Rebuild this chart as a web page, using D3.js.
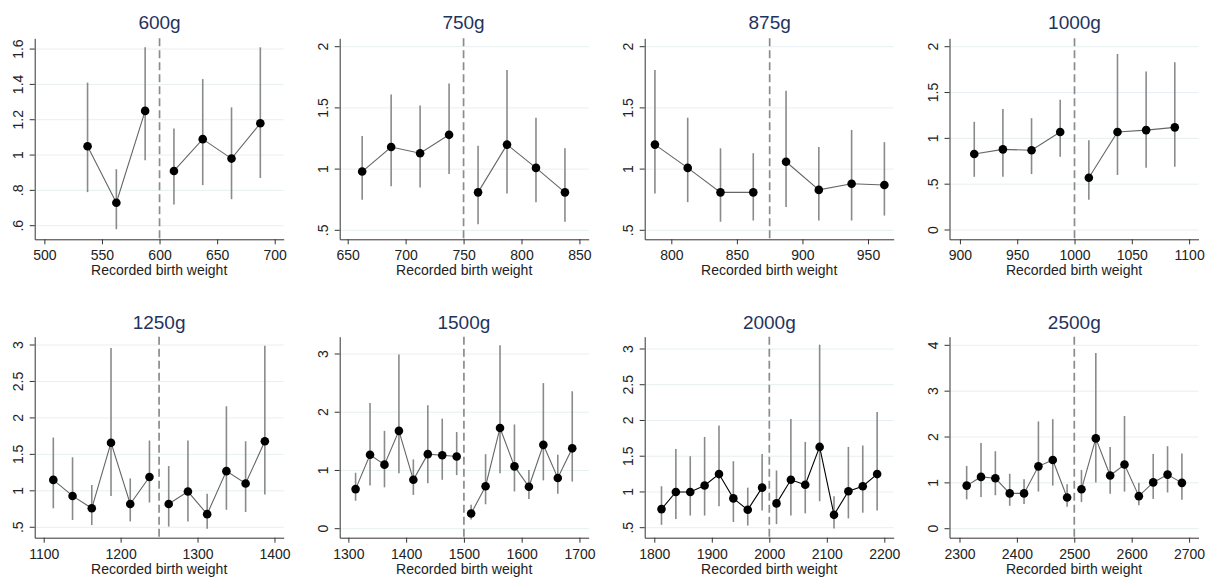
<!DOCTYPE html>
<html>
<head>
<meta charset="utf-8">
<script src="https://cdn.jsdelivr.net/npm/d3@7"></script>
<style>
  body { margin: 0; background: #fff; }
  svg, svg text { font-family: "Liberation Sans", Arial, sans-serif; }
</style>
</head>
<body>
<svg width="1216" height="581"></svg>
<script>

// panel titles and cutoffs
var titles = ["600g", "750g", "875g", "1000g", "1250g", "1500g", "2000g", "2500g"];
var cutoffs = [600, 750, 875, 1000, 1250, 1500, 2000, 2500];

// bin midpoints
var bins = [
  [537.5, 562.5, 587.5, 612.5, 637.5, 662.5, 687.5],
  [662.5, 687.5, 712.5, 737.5, 762.5, 787.5, 812.5, 837.5],
  [787.5, 812.5, 837.5, 862.5, 887.5, 912.5, 937.5, 962.5],
  [912.5, 937.5, 962.5, 987.5, 1012.5, 1037.5, 1062.5, 1087.5],
  [1112.5, 1137.5, 1162.5, 1187.5, 1212.5, 1237.5, 1262.5, 1287.5, 1312.5, 1337.5, 1362.5, 1387.5],
  [1312.5, 1337.5, 1362.5, 1387.5, 1412.5, 1437.5, 1462.5, 1487.5, 1512.5, 1537.5, 1562.5, 1587.5, 1612.5, 1637.5, 1662.5, 1687.5],
  [1812.5, 1837.5, 1862.5, 1887.5, 1912.5, 1937.5, 1962.5, 1987.5, 2012.5, 2037.5, 2062.5, 2087.5, 2112.5, 2137.5, 2162.5, 2187.5],
  [2312.5, 2337.5, 2362.5, 2387.5, 2412.5, 2437.5, 2462.5, 2487.5, 2512.5, 2537.5, 2562.5, 2587.5, 2612.5, 2637.5, 2662.5, 2687.5]
];

// point estimates
var est = [
  [1.05, 0.73, 1.25, 0.91, 1.09, 0.98, 1.18],
  [0.98, 1.18, 1.13, 1.28, 0.81, 1.20, 1.01, 0.81],
  [1.20, 1.01, 0.81, 0.81, 1.06, 0.83, 0.88, 0.87],
  [0.83, 0.88, 0.87, 1.07, 0.57, 1.07, 1.09, 1.12],
  [1.15, 0.93, 0.76, 1.66, 0.82, 1.19, 0.82, 0.99, 0.68, 1.27, 1.10, 1.68],
  [0.68, 1.27, 1.10, 1.68, 0.84, 1.28, 1.26, 1.24, 0.26, 0.73, 1.73, 1.07, 0.72, 1.44, 0.87, 1.38],
  [0.76, 1.00, 1.00, 1.09, 1.25, 0.91, 0.75, 1.06, 0.84, 1.17, 1.10, 1.63, 0.68, 1.01, 1.08, 1.25],
  [0.94, 1.13, 1.10, 0.77, 0.77, 1.36, 1.50, 0.68, 0.86, 1.97, 1.16, 1.40, 0.71, 1.01, 1.18, 1.00]
];

// confidence interval bounds
var lo = [
  [0.79, 0.58, 0.97, 0.72, 0.83, 0.75, 0.87],
  [0.75, 0.86, 0.85, 0.96, 0.55, 0.80, 0.73, 0.57],
  [0.80, 0.73, 0.57, 0.58, 0.69, 0.58, 0.58, 0.62],
  [0.58, 0.58, 0.61, 0.80, 0.33, 0.60, 0.68, 0.69],
  [0.76, 0.60, 0.53, 0.93, 0.58, 0.84, 0.51, 0.58, 0.48, 0.74, 0.71, 0.95],
  [0.48, 0.74, 0.71, 0.95, 0.58, 0.78, 0.84, 0.92, 0.16, 0.42, 0.95, 0.64, 0.51, 0.83, 0.60, 0.81],
  [0.54, 0.62, 0.67, 0.67, 0.80, 0.58, 0.53, 0.74, 0.55, 0.67, 0.70, 0.87, 0.49, 0.63, 0.71, 0.74],
  [0.64, 0.69, 0.73, 0.50, 0.54, 0.81, 0.94, 0.48, 0.58, 1.01, 0.76, 0.81, 0.51, 0.65, 0.79, 0.63]
];
var hi = [
  [1.41, 0.92, 1.61, 1.15, 1.43, 1.27, 1.61],
  [1.27, 1.61, 1.52, 1.70, 1.19, 1.81, 1.42, 1.17],
  [1.81, 1.42, 1.17, 1.13, 1.64, 1.18, 1.32, 1.22],
  [1.18, 1.32, 1.22, 1.42, 0.98, 1.92, 1.73, 1.83],
  [1.73, 1.46, 1.08, 2.96, 1.17, 1.69, 1.34, 1.69, 0.96, 2.16, 1.68, 2.99],
  [0.96, 2.16, 1.68, 2.99, 1.19, 2.12, 1.89, 1.66, 0.41, 1.28, 3.15, 1.79, 1.01, 2.50, 1.27, 2.36],
  [1.08, 1.60, 1.50, 1.77, 1.93, 1.43, 1.06, 1.53, 1.30, 2.02, 1.70, 3.06, 0.94, 1.63, 1.65, 2.12],
  [1.37, 1.87, 1.69, 1.20, 1.08, 2.34, 2.39, 0.97, 1.28, 3.83, 1.78, 2.46, 1.00, 1.63, 1.80, 1.64]
];

// axis ticks
var xTicks = [
  [500, 550, 600, 650, 700],
  [650, 700, 750, 800, 850],
  [800, 850, 900, 950],
  [900, 950, 1000, 1050, 1100],
  [1100, 1200, 1300, 1400],
  [1300, 1400, 1500, 1600, 1700],
  [1800, 1900, 2000, 2100, 2200],
  [2300, 2400, 2500, 2600, 2700]
];
var yTicks = [
  [0.6, 0.8, 1, 1.2, 1.4, 1.6],
  [0.5, 1, 1.5, 2],
  [0.5, 1, 1.5, 2],
  [0, 0.5, 1, 1.5, 2],
  [0.5, 1, 1.5, 2, 2.5, 3],
  [0, 1, 2, 3],
  [0.5, 1, 1.5, 2, 2.5, 3],
  [0, 1, 2, 3, 4]
];

// axis ranges (padded like stata does)
var xDomains = [[491.6, 707.8], [643.1, 858], [779.7, 969.6], [890.9, 1108.2],
                [1088.3, 1412], [1285, 1716], [1783.3, 2216.3], [2282.6, 2716.4]];
var yDomains = [[0.523, 1.661], [0.4265, 2.0686], [0.4265, 2.0686], [-0.1015, 2.0916],
                [0.357, 3.114], [-0.1546, 3.297], [0.36, 3.172], [-0.196, 4.188]];

var svg = d3.select("svg"),
    plotW = 249,
    plotH = 201,
    lefts = [34.7, 339.7, 644.7, 949.5],
    tops = [38.3, 336.7],
    font = "'Liberation Sans', Arial, sans-serif";

var fmt = function(v) { return String(v).replace(/^0\./, ".").replace(/^-0\./, "-."); };

titles.forEach(function(title, i) {
  var col = i % 4, row = Math.floor(i / 4);
  var g = svg.append("g")
      .attr("transform", "translate(" + lefts[col] + "," + tops[row] + ")");

  var x = d3.scaleLinear().domain(xDomains[i]).range([0, plotW]);
  var y = d3.scaleLinear().domain(yDomains[i]).range([plotH, 0]);

  // grid
  g.append("g").selectAll("line")
      .data(yTicks[i])
    .enter().append("line")
      .attr("x1", 0).attr("x2", plotW)
      .attr("y1", function(d) { return y(d); })
      .attr("y2", function(d) { return y(d); })
      .attr("stroke", "#e6eff1")
      .attr("stroke-width", 1);

  // cutoff line
  g.append("line")
      .attr("x1", x(cutoffs[i])).attr("x2", x(cutoffs[i]))
      .attr("y1", 0).attr("y2", plotH)
      .attr("stroke", "#8c8c8c")
      .attr("stroke-width", 1.7)
      .attr("stroke-dasharray", "8,4");

  var pts = bins[i].map(function(b, j) {
    return {x: b, y: est[i][j], lo: lo[i][j], hi: hi[i][j]};
  });

  // ci bars
  g.append("g").selectAll("line")
      .data(pts)
    .enter().append("line")
      .attr("x1", function(d) { return x(d.x); })
      .attr("x2", function(d) { return x(d.x); })
      .attr("y1", function(d) { return y(d.lo); })
      .attr("y2", function(d) { return y(d.hi); })
      .attr("stroke", "#8a8a8a")
      .attr("stroke-width", 1.6);

  // connect points on each side of the cutoff
  var line = d3.line()
      .x(function(d) { return x(d.x); })
      .y(function(d) { return y(d.y); });
  var sides = [pts.filter(function(d) { return d.x < cutoffs[i]; }),
               pts.filter(function(d) { return d.x > cutoffs[i]; })];
  g.append("g").selectAll("path")
      .data(sides)
    .enter().append("path")
      .attr("d", line)
      .attr("fill", "none")
      .attr("stroke", i === 6 ? "#000" : "#666")
      .attr("stroke-width", 1.1);

  g.append("g").selectAll("circle")
      .data(pts)
    .enter().append("circle")
      .attr("cx", function(d) { return x(d.x); })
      .attr("cy", function(d) { return y(d.y); })
      .attr("r", 4.3)
      .attr("fill", "#000");

  // axes
  var xAxis = d3.axisBottom(x).tickValues(xTicks[i]).tickSize(5).tickSizeOuter(0).tickFormat(d3.format("d"));
  var yAxis = d3.axisLeft(y).tickValues(yTicks[i]).tickSize(5).tickSizeOuter(0).tickFormat(fmt);

  var gx = g.append("g")
      .attr("class", "axis axis--x")
      .attr("transform", "translate(0," + plotH + ")")
      .attr("font-size", 14)
      .attr("font-family", font)
      .call(xAxis);
  gx.selectAll("text").attr("dy", null).attr("y", 21).attr("fill", "#222");

  var gy = g.append("g")
      .attr("class", "axis axis--y")
      .attr("font-size", 14)
      .attr("font-family", font)
      .call(yAxis);
  gy.attr("font-size", 14).attr("font-family", font);
  gx.attr("font-size", 14).attr("font-family", font);
  gy.selectAll("text")
      .attr("x", null).attr("dy", null)
      .attr("text-anchor", "middle")
      .attr("transform", function(d) { return "translate(-12," + y(d) + ") rotate(-90)"; })
      .attr("y", null)
      .attr("fill", "#222");
  gy.selectAll(".tick").attr("transform", null);
  gy.selectAll(".tick line")
      .attr("y1", function(d) { return y(d); })
      .attr("y2", function(d) { return y(d); });

  svg.selectAll(".axis path, .axis line").attr("stroke", "#333");

  g.append("text")
      .attr("x", plotW / 2)
      .attr("y", plotH + 36)
      .attr("text-anchor", "middle")
      .attr("font-size", 14)
      .attr("fill", "#222")
      .text("Recorded birth weight");

  g.append("text")
      .attr("x", x(cutoffs[i]))
      .attr("y", row === 0 ? -9 : -7.5)
      .attr("text-anchor", "middle")
      .attr("font-size", 19)
      .attr("fill", "#1f335e")
      .text(title);
});

</script>
</body>
</html>
